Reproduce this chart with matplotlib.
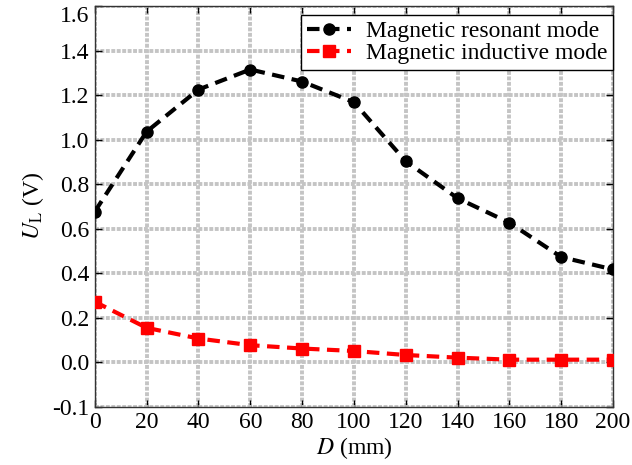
import matplotlib
matplotlib.use("Agg")
import matplotlib.pyplot as plt

distance = [0, 20, 40, 60, 80, 100, 120, 140, 160, 180, 200]
resonant = [0.677, 1.036, 1.225, 1.315, 1.261, 1.168, 0.903, 0.737, 0.627, 0.473, 0.417]
inductive = [0.272, 0.155, 0.107, 0.077, 0.062, 0.051, 0.033, 0.021, 0.012, 0.012, 0.012]

y_ticks = [-0.2, 0.0, 0.2, 0.4, 0.6, 0.8, 1.0, 1.2, 1.4, 1.6]
y_labels = ["-0.1", "0.0", "0.2", "0.4", "0.6", "0.8", "1.0", "1.2", "1.4", "1.6"]

plt.rcParams["font.family"] = ["Liberation Serif", "DejaVu Serif"]
plt.rcParams["mathtext.fontset"] = "stix"
plt.rcParams["font.size"] = 17

fig = plt.figure(figsize=(6.32, 4.65), dpi=100)
ax = fig.add_axes([0.150, 0.125, 0.820, 0.862])

ax.plot(distance, resonant, "k", linestyle=(0, (3, 1.8)), marker="o",
        markersize=8, linewidth=3, label="Magnetic resonant mode", zorder=3)
ax.plot(distance, inductive, color="red", linestyle=(0, (3, 1.8)), marker="s",
        markersize=8, linewidth=3, label="Magnetic inductive mode", zorder=3)

ax.set_xlim(0, 200)
ax.set_ylim(-0.2, 1.6)
ax.set_xticks(range(0, 201, 20))
ax.set_yticks(y_ticks)
ax.set_yticklabels(y_labels)
# top label sits just under the figure edge, like the original
ax.get_yticklabels()[-1].set_verticalalignment("top")
ax.grid(True, color="#c4c4c4", linestyle=(0, (1, 0.4)), linewidth=2.8)
ax.set_axisbelow(True)
ax.tick_params(direction="in", top=True, right=True, length=5, width=1, pad=4,
               labelsize=17)
for s in ax.spines.values():
    s.set_linewidth(1)
    s.set_color("#333333")

ax.set_xlabel(r"$D$ (mm)", labelpad=1)
ax.set_ylabel(r"$U_\mathrm{L}$ (V)", labelpad=4)

leg = ax.legend(loc="upper right", bbox_to_anchor=(1.0, 1 - 9 / 401),
                borderaxespad=0, fancybox=False, framealpha=1,
                handlelength=1.9, handletextpad=0.6, labelspacing=0.0,
                borderpad=0.25, fontsize=17)
leg.get_frame().set_edgecolor("black")
leg.get_frame().set_linewidth(1)

fig.savefig("out.png", dpi=100)
